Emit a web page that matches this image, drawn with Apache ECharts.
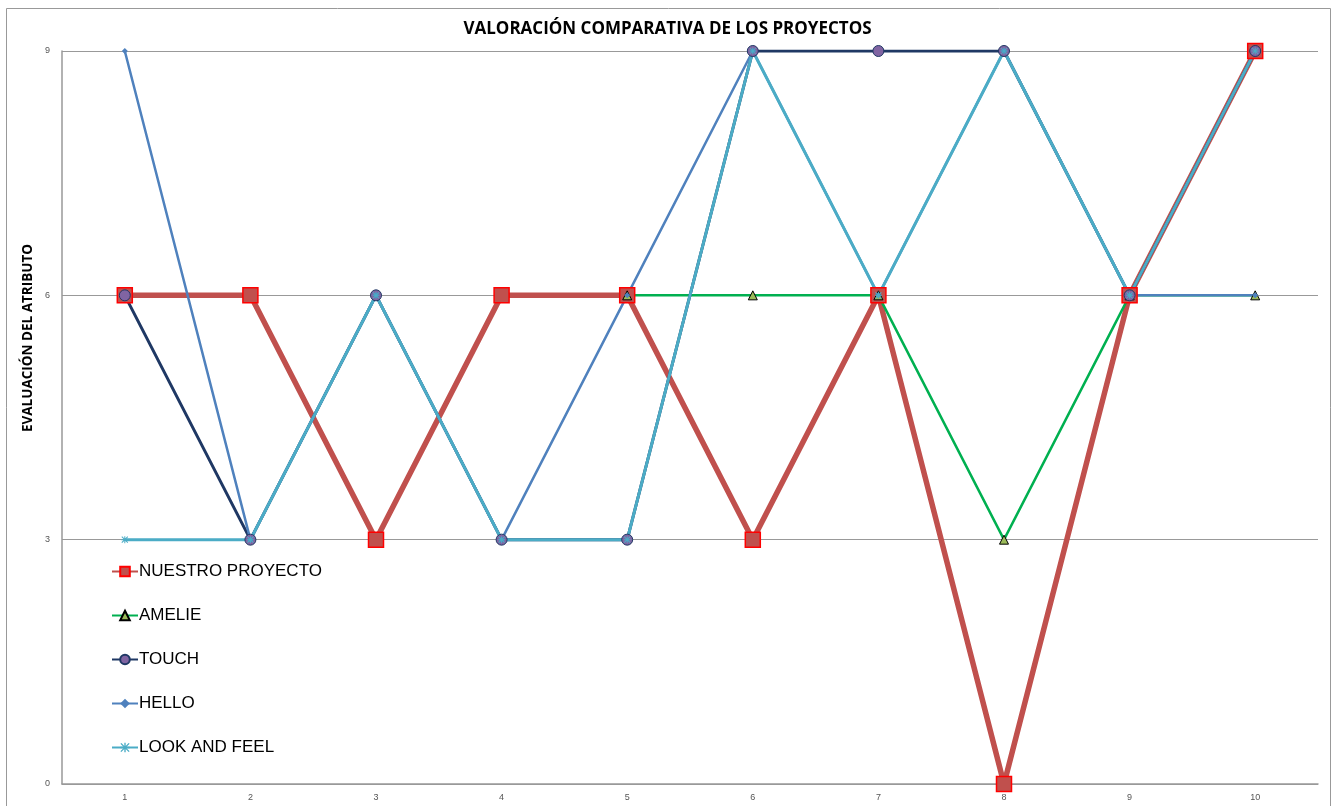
<!DOCTYPE html>
<html>
<head>
<meta charset="utf-8">
<script src="https://cdn.jsdelivr.net/npm/echarts@6/dist/echarts.min.js"></script>
<style>
html,body{margin:0;padding:0;background:#fff;}
#chart{width:1335px;height:806px;}
</style>
</head>
<body>
<div id="chart"></div>
<script>
const categories = ['1','2','3','4','5','6','7','8','9','10'];
const nuestroProyecto = [6,6,3,6,6,3,6,0,6,9];
const amelie = [null,null,null,null,6,6,6,3,6,6];
const touch = [6,3,6,3,3,9,9,9,6,9];
const hello = [9,3,6,3,6,9,6,9,6,6];
const lookAndFeel = [3,3,6,3,3,9,6,9,6,9];
const yTicks = [0,3,6,9];

const asterisk = 'path://M4.3,0h1.4v10h-1.4z M0,4.3h10v1.4h-10z M1.2,0.2L9.8,8.8L8.8,9.8L0.2,1.2z M8.8,0.2L9.8,1.2L1.2,9.8L0.2,8.8z';

const chart = echarts.init(document.getElementById('chart'));
chart.setOption({
  animation: false,
  backgroundColor: '#fff',
  title: {
    text: 'VALORACIÓN COMPARATIVA DE LOS PROYECTOS',
    left: 'center', top: 16,
    textStyle: {fontFamily: 'Open Sans', fontWeight: 'bold', fontSize: 17, color: '#000'}
  },
  grid: {left: 62, right: 17, top: 51, bottom: 22, containLabel: false},
  legend: {
    orient: 'vertical', left: 106, top: 558,
    itemGap: 27, itemWidth: 26, itemHeight: 12,
    textStyle: {fontFamily: 'Liberation Sans', fontSize: 17, color: '#000', padding: [0,0,0,-4]},
    data: ['NUESTRO PROYECTO','AMELIE','TOUCH','HELLO','LOOK AND FEEL']
  },
  xAxis: {
    type: 'category', data: categories, boundaryGap: true,
    axisLine: {lineStyle: {color: '#999', width: 1.5}},
    axisTick: {show: false},
    axisLabel: {color: '#555', fontSize: 9, margin: 9, fontFamily: 'Liberation Sans'}
  },
  yAxis: {
    type: 'value', min: 0, max: 9, interval: 3,
    axisLine: {show: true, lineStyle: {color: '#999', width: 1.5}},
    axisTick: {show: false},
    splitLine: {lineStyle: {color: '#999', width: 1}},
    axisLabel: {color: '#555', fontSize: 9, margin: 12, fontFamily: 'Liberation Sans',
      formatter: v => yTicks.includes(v) ? String(v) : ''}
  },
  graphic: [
    {type: 'rect', shape: {x: 6.5, y: 8.5, width: 1324, height: 800}, style: {fill: 'none', stroke: '#999', lineWidth: 1}, silent: true},
    {type: 'text', x: 28, y: 338, rotation: Math.PI/2,
     style: {text: 'EVALUACIÓN DEL ATRIBUTO', fontFamily: 'Open Sans', fontWeight: 'bold', fontSize: 13.5, fill: '#000', align: 'center', verticalAlign: 'middle'}}
  ],
  series: [
    {name: 'NUESTRO PROYECTO', type: 'line', data: nuestroProyecto,
     lineStyle: {color: '#C0504D', width: 5.5},
     symbol: 'rect', symbolSize: 15,
     itemStyle: {color: '#C0504D', borderColor: '#FF0000', borderWidth: 1.5}},
    {name: 'AMELIE', type: 'line', data: amelie,
     lineStyle: {color: '#00B050', width: 2.5},
     symbol: 'triangle', symbolSize: 9,
     itemStyle: {color: '#9BBB59', borderColor: '#000', borderWidth: 1}},
    {name: 'TOUCH', type: 'line', data: touch,
     lineStyle: {color: '#1F3864', width: 3},
     symbol: 'circle', symbolSize: 11,
     itemStyle: {color: '#8064A2', borderColor: '#1F3864', borderWidth: 1}},
    {name: 'HELLO', type: 'line', data: hello,
     lineStyle: {color: '#4F81BD', width: 2.5},
     symbol: 'diamond', symbolSize: 6,
     itemStyle: {color: '#4F81BD'}},
    {name: 'LOOK AND FEEL', type: 'line', data: lookAndFeel,
     lineStyle: {color: '#4BACC6', width: 3},
     symbol: asterisk, symbolSize: 7,
     itemStyle: {color: '#4BACC6'}}
  ]
});
</script>
</body>
</html>
